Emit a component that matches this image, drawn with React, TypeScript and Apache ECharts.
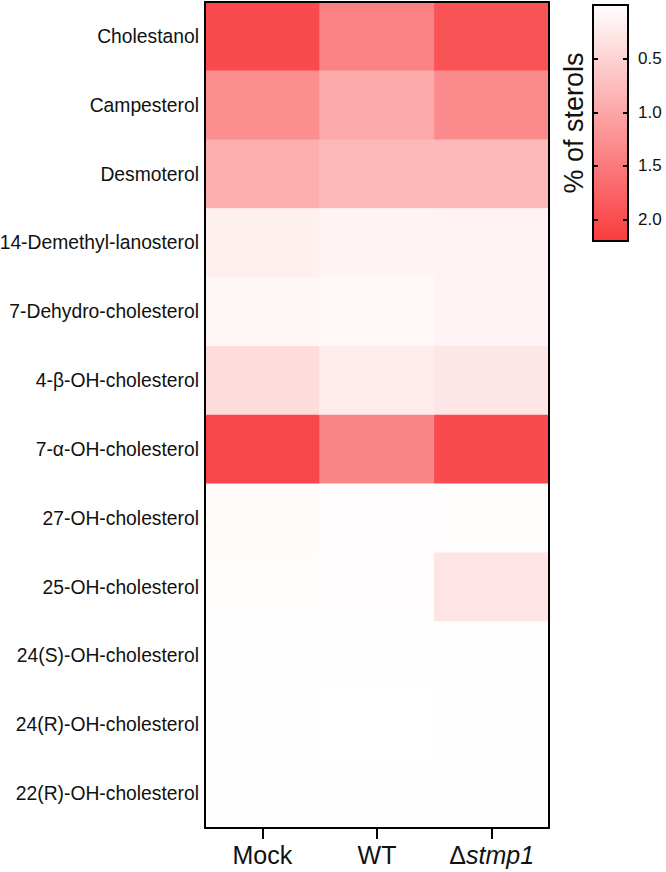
import React, { useEffect, useRef } from "react";
import * as echarts from "echarts";

const sterols = [
  "Cholestanol",
  "Campesterol",
  "Desmoterol",
  "14-Demethyl-lanosterol",
  "7-Dehydro-cholesterol",
  "4-β-OH-cholesterol",
  "7-α-OH-cholesterol",
  "27-OH-cholesterol",
  "25-OH-cholesterol",
  "24(S)-OH-cholesterol",
  "24(R)-OH-cholesterol",
  "22(R)-OH-cholesterol",
];
const groups = ["Mock", "WT", "Δstmp1"];
const mockValues = [2.04, 1.28, 0.9, 0.17, 0.1, 0.4, 2.08, 0.05, 0.03, 0.01, 0.01, 0.01];
const wtValues = [1.41, 0.97, 0.79, 0.12, 0.08, 0.22, 1.36, 0.02, 0.02, 0.01, 0.0, 0.01];
const stmp1Values = [1.94, 1.32, 0.8, 0.15, 0.12, 0.28, 2.04, 0.03, 0.3, 0.01, 0.01, 0.01];
const scaleMin = 0;
const scaleMax = 2.2;
const scaleStep = 0.5;

const FONT = "'Liberation Sans', Arial, sans-serif";

export default function App() {
  const ref = useRef<HTMLDivElement>(null);
  useEffect(() => {
    if (!ref.current) return;
    const chart = echarts.init(ref.current, undefined, { renderer: "svg" });
    const columns = [mockValues, wtValues, stmp1Values];
    const data: [number, number, number][] = [];
    columns.forEach((col, xi) => {
      col.forEach((v, yi) => data.push([xi, yi, v]));
    });
    const lineStyle = { color: "#000", width: 2 };
    chart.setOption({
      animation: false,
      backgroundColor: "#fff",
      grid: [
        { left: 205, top: 2, width: 344, height: 826, outerBoundsMode: "none", containLabel: false },
        { left: 593, top: 5, width: 35, height: 236, outerBoundsMode: "none", containLabel: false },
      ],
      xAxis: [
        {
          gridIndex: 0,
          type: "category",
          data: groups,
          position: "bottom",
          z: 10,
          axisLine: { show: true, lineStyle },
          axisTick: { show: true, alignWithLabel: true, length: 11, lineStyle },
          axisLabel: {
            interval: 0,
            margin: 14,
            color: "#111",
            fontFamily: FONT,
            fontSize: 25,
            formatter: (v: string) =>
              v.startsWith("Δ") ? "{n|Δ}{i|" + v.slice(1) + "}" : "{n|" + v + "}",
            rich: {
              n: { fontFamily: FONT, fontSize: 25, color: "#111" },
              i: { fontFamily: FONT, fontSize: 25, color: "#111", fontStyle: "italic" },
            },
          },
          splitLine: { show: false },
        },
        {
          gridIndex: 0,
          type: "category",
          data: groups,
          position: "top",
          z: 10,
          axisLine: { show: true, lineStyle },
          axisTick: { show: false },
          axisLabel: { show: false },
        },
        {
          gridIndex: 1,
          type: "value",
          min: 0,
          max: 1,
          position: "bottom",
          z: 10,
          axisLine: { show: true, onZero: false, lineStyle },
          axisTick: { show: false },
          axisLabel: { show: false },
          splitLine: { show: false },
        },
        {
          gridIndex: 1,
          type: "value",
          min: 0,
          max: 1,
          position: "top",
          z: 10,
          axisLine: { show: true, onZero: false, lineStyle },
          axisTick: { show: false },
          axisLabel: { show: false },
          splitLine: { show: false },
        },
      ],
      yAxis: [
        {
          gridIndex: 0,
          type: "category",
          data: sterols,
          inverse: true,
          position: "left",
          z: 10,
          axisLine: { show: true, lineStyle },
          axisTick: { show: false },
          axisLabel: { interval: 0, margin: 6, color: "#111", fontFamily: FONT, fontSize: 19.3 },
          splitLine: { show: false },
        },
        {
          gridIndex: 0,
          type: "category",
          data: sterols,
          inverse: true,
          position: "right",
          z: 10,
          axisLine: { show: true, lineStyle },
          axisTick: { show: false },
          axisLabel: { show: false },
        },
        {
          gridIndex: 1,
          type: "value",
          min: scaleMin,
          max: scaleMax,
          interval: scaleStep,
          inverse: true,
          position: "left",
          z: 10,
          name: "% of sterols",
          nameLocation: "middle",
          nameRotate: 90,
          nameGap: 6,
          nameTextStyle: { fontFamily: FONT, fontSize: 27, color: "#111", verticalAlign: "bottom" },
          axisLine: { show: true, onZero: false, lineStyle },
          axisTick: { show: true, inside: true, length: 5, lineStyle },
          axisLabel: { show: false },
          splitLine: { show: false },
        },
        {
          gridIndex: 1,
          type: "value",
          min: scaleMin,
          max: scaleMax,
          interval: scaleStep,
          inverse: true,
          position: "right",
          z: 10,
          axisLine: { show: true, onZero: false, lineStyle },
          axisTick: { show: true, inside: true, length: 5, lineStyle },
          axisLabel: {
            show: true,
            margin: 10,
            showMinLabel: false,
            showMaxLabel: false,
            color: "#111",
            fontFamily: FONT,
            fontSize: 17,
            formatter: (v: number) => v.toFixed(1),
          },
          splitLine: { show: false },
        },
      ],
      visualMap: {
        type: "continuous",
        min: scaleMin,
        max: scaleMax,
        orient: "vertical",
        inverse: true,
        left: 593,
        top: 5,
        itemWidth: 35,
        itemHeight: 236,
        padding: 0,
        calculable: false,
        text: null,
        seriesIndex: 0,
        inRange: { color: ["#ffffff", "#f93c3f"] },
      },
      series: [
        {
          type: "heatmap",
          xAxisIndex: 0,
          yAxisIndex: 0,
          data,
          itemStyle: { borderWidth: 0 },
          emphasis: { disabled: true },
        },
      ],
    });
    return () => chart.dispose();
  }, []);
  return (
    <div
      ref={ref}
      style={{ position: "absolute", left: 0, top: 0, width: 666, height: 872 }}
    />
  );
}
